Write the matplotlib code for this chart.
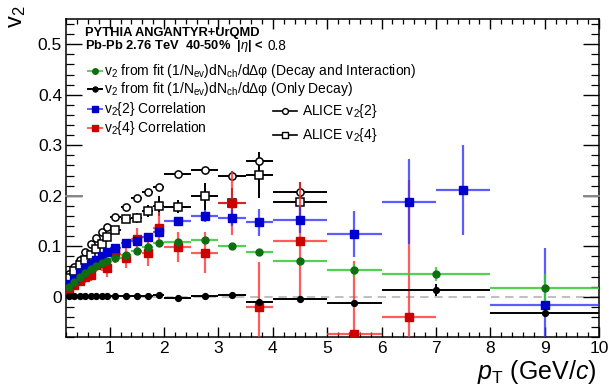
import matplotlib
matplotlib.use('Agg')
import matplotlib.pyplot as plt

plt.rcParams['font.family'] = ['Liberation Sans', 'DejaVu Sans']
plt.rcParams['mathtext.fontset'] = 'custom'
plt.rcParams['mathtext.rm'] = 'Liberation Sans'
plt.rcParams['mathtext.it'] = 'Liberation Sans:italic'
plt.rcParams['mathtext.bf'] = 'Liberation Sans:bold'
plt.rcParams['mathtext.sf'] = 'Liberation Sans'

# ---------------- data ----------------
pt_low = [0.25, 0.35, 0.45, 0.55, 0.65, 0.75, 0.85, 0.95, 1.1, 1.3, 1.5, 1.7, 1.9,
          2.25, 2.75, 3.25, 3.75, 4.5]
ptw_low = [0.05] * 8 + [0.1] * 5 + [0.25] * 4 + [0.5]

# v2 from fit (Decay and Interaction) - green
green_x = pt_low + [5.5, 7.0, 9.0]
green_xerr = ptw_low + [0.5, 1.0, 1.0]
green_y = [0.020, 0.030, 0.040, 0.046, 0.055, 0.061, 0.066, 0.071, 0.076, 0.083, 0.091,
           0.098, 0.107, 0.109, 0.112, 0.100, 0.088, 0.071, 0.052, 0.045, 0.018]
green_err = [0.003] * 13 + [0.004, 0.004, 0.005, 0.006, 0.007, 0.012, 0.014, 0.027]

# v2 from fit (Only Decay) - black
black_x = pt_low + [5.5, 7.0, 9.0]
black_xerr = ptw_low + [0.5, 1.0, 1.0]
black_y = [0.001, 0.001, 0.001, 0.001, 0.001, 0.001, 0.001, 0.001, 0.001, 0.001, 0.002,
           0.002, 0.003, -0.003, 0.001, 0.003, -0.011, -0.005, -0.013, 0.013, -0.032]
black_err = [0.001] * 13 + [0.002, 0.002, 0.003, 0.004, 0.004, 0.005, 0.012, 0.008]

# v2{2} correlation - blue
blue_x = pt_low + [5.5, 6.5, 7.5, 9.0]
blue_xerr = ptw_low + [0.5, 0.5, 0.5, 1.0]
blue_y = [0.026, 0.036, 0.047, 0.056, 0.064, 0.072, 0.081, 0.089, 0.096, 0.106, 0.110,
          0.119, 0.129, 0.149, 0.160, 0.156, 0.147, 0.152, 0.124, 0.188, 0.211, -0.016]
blue_err = [0.003] * 8 + [0.004, 0.004, 0.005, 0.006, 0.007, 0.008, 0.012, 0.015,
                          0.026, 0.025, 0.045, 0.084, 0.089, 0.112]

# v2{4} correlation - red
red_x = pt_low + [5.5, 6.5]
red_xerr = ptw_low + [0.5, 0.5]
red_y = [0.016, 0.024, 0.032, 0.040, 0.043, 0.062, 0.066, 0.056, 0.084, 0.077, 0.115,
         0.087, 0.137, 0.099, 0.087, 0.185, -0.020, 0.111, -0.074, -0.040]
red_err = [0.008, 0.008, 0.010, 0.012, 0.012, 0.014, 0.015, 0.016, 0.018, 0.020, 0.021,
           0.026, 0.030, 0.030, 0.041, 0.063, 0.089, 0.117, 0.145, 0.271]

# ALICE v2{2} and v2{4}
alice2_y = [0.045, 0.058, 0.072, 0.089, 0.104, 0.117, 0.129, 0.139, 0.158, 0.178, 0.196,
            0.208, 0.217, 0.243, 0.250, 0.240, 0.269, 0.208]
alice2_err = [0.002] * 13 + [0.004, 0.005, 0.008, 0.018, 0.020]
alice4_y = [0.038, 0.050, 0.062, 0.073, 0.082, 0.095, 0.104, 0.118, 0.132, 0.153, 0.155,
            0.170, 0.180, 0.178, 0.199, 0.185, 0.241, 0.187]
alice4_err = [0.003, 0.003, 0.004, 0.004, 0.005, 0.005, 0.006, 0.006, 0.007, 0.008, 0.010,
              0.012, 0.020, 0.013, 0.027, 0.030, 0.045, 0.040]

x_ticks = [1, 2, 3, 4, 5, 6, 7, 8, 9, 10]
y_ticks = [0, 0.1, 0.2, 0.3, 0.4, 0.5]
y_ticklabels = ['0', '0.1', '0.2', '0.3', '0.4', '0.5']

# ---------------- style ----------------
G_LINE, G_MARK = (0.2, 0.8, 0.2, 0.85), '#0f6e12'
B_LINE, B_MARK = (0.2, 0.2, 1.0, 0.8), '#0000cc'
R_LINE, R_MARK = (1.0, 0.2, 0.2, 0.8), '#cc0000'
K = 'black'
ELW = 1.6

fig = plt.figure(figsize=(6.09, 3.87), dpi=100)
ax = fig.add_axes([0.1087, 0.1289, 0.8749, 0.8221])

ax.axhline(0, color='#b4b4b4', ls=(0, (5, 3.5)), lw=1.2, zorder=1)

ax.errorbar(pt_low, alice2_y, yerr=alice2_err, xerr=ptw_low, fmt='o', ms=5.2,
            mfc='white', mec=K, mew=1.1, ecolor=K, elinewidth=1.4, capsize=0, zorder=2)
ax.errorbar(pt_low, alice4_y, yerr=alice4_err, xerr=ptw_low, fmt='s', ms=5.4,
            mfc='white', mec=K, mew=1.1, ecolor=K, elinewidth=1.4, capsize=0, zorder=2)
ax.errorbar(red_x, red_y, yerr=red_err, xerr=red_xerr, fmt='s', ms=5.2,
            mfc=R_MARK, mec=R_MARK, ecolor=R_LINE, elinewidth=ELW, capsize=0, zorder=3)
ax.errorbar(blue_x, blue_y, yerr=blue_err, xerr=blue_xerr, fmt='s', ms=5.2,
            mfc=B_MARK, mec=B_MARK, ecolor=B_LINE, elinewidth=ELW, capsize=0, zorder=4)
ax.errorbar(green_x, green_y, yerr=green_err, xerr=green_xerr, fmt='o', ms=5.0,
            mfc=G_MARK, mec=G_MARK, ecolor=G_LINE, elinewidth=ELW, capsize=0, zorder=5)
ax.errorbar(black_x, black_y, yerr=black_err, xerr=black_xerr, fmt='o', ms=4.2,
            mfc=K, mec=K, ecolor=K, elinewidth=1.4, capsize=0, zorder=6)

ax.set_xlim(0.2, 10)
ax.set_ylim(-0.08, 0.55)
ax.set_xticks(x_ticks)
ax.set_xticklabels([str(v) for v in x_ticks])
ax.set_yticks(y_ticks)
ax.set_yticklabels(y_ticklabels)
ax.xaxis.set_minor_locator(matplotlib.ticker.MultipleLocator(0.2))
ax.yaxis.set_minor_locator(matplotlib.ticker.MultipleLocator(0.02))
ax.tick_params(which='both', direction='in', top=True, right=True, labelsize=12.5)
ax.tick_params(axis='x', which='major', length=7, width=1, pad=3)
ax.tick_params(axis='x', which='minor', length=3.5, width=0.9)
ax.tick_params(axis='y', which='major', length=11.5, width=1, pad=3)
ax.tick_params(axis='y', which='minor', length=5.8, width=0.9)
for s in ax.spines.values():
    s.set_linewidth(1.1)

# gray marks at 0.2 on both sides
ytr = ax.get_yaxis_transform()
ax.plot([0, 0.03], [0.2, 0.2], transform=ytr, color='#888888', lw=1.4, zorder=7, clip_on=False)
ax.plot([0.972, 1.0], [0.2, 0.2], transform=ytr, color='#888888', lw=1.4, zorder=7, clip_on=False)

# axis titles
fig.text(597 / 609, 1 - 379 / 387, r'$p_{\rm T}$ (GeV/$c$)', ha='right', va='baseline', fontsize=18)
fig.text(17 / 609, 1 - 6 / 387, r'v$_2$', rotation=90, ha='center', va='top', fontsize=17)

# header text
T = ax.transAxes
ax.text(0.035, 0.957, 'PYTHIA ANGANTYR+UrQMD', transform=T, fontsize=9.3, fontweight='bold',
        va='center', ha='left')
ax.text(0.035, 0.915, r'Pb-Pb 2.76 TeV  40-50%  |$\eta$| <', transform=T, fontsize=9.3,
        fontweight='bold', va='center', ha='left')
ax.text(0.377, 0.915, '0.8', transform=T, fontsize=9.8, va='center', ha='left')

# legend entries
entries = [
    (0.837, G_LINE, G_MARK, 'o', 4.0,
     r'v$_2$ from fit (1/N$_{\rm ev}$)dN$_{\rm ch}$/dΔφ (Decay and Interaction)'),
    (0.779, K, K, 'o', 3.6,
     r'v$_2$ from fit (1/N$_{\rm ev}$)dN$_{\rm ch}$/dΔφ (Only Decay)'),
    (0.717, B_LINE, B_MARK, 's', 4.2, r'v$_2${2} Correlation'),
    (0.656, R_LINE, R_MARK, 's', 4.2, r'v$_2${4} Correlation'),
]
for yy, lc, mc, mk, ms, lab in entries:
    ax.plot([0.041, 0.067], [yy, yy], transform=T, color=lc, lw=1.4, zorder=8)
    ax.plot([0.054], [yy], transform=T, marker=mk, ms=ms, color=mc, zorder=9)
    ax.text(0.071, yy, lab, transform=T, fontsize=10, va='center', ha='left')

for yy, mk, lab in [(0.711, 'o', r'ALICE v$_2${2}'), (0.635, 's', r'ALICE v$_2${4}')]:
    ax.plot([0.388, 0.434], [yy, yy], transform=T, color=K, lw=1.2, zorder=8)
    ax.plot([0.411], [yy], transform=T, marker=mk, ms=4.2, mfc='white', mec=K, mew=1.0, zorder=9)
    ax.text(0.443, yy, lab, transform=T, fontsize=10, va='center', ha='left')

fig.savefig('out.png', dpi=100)
